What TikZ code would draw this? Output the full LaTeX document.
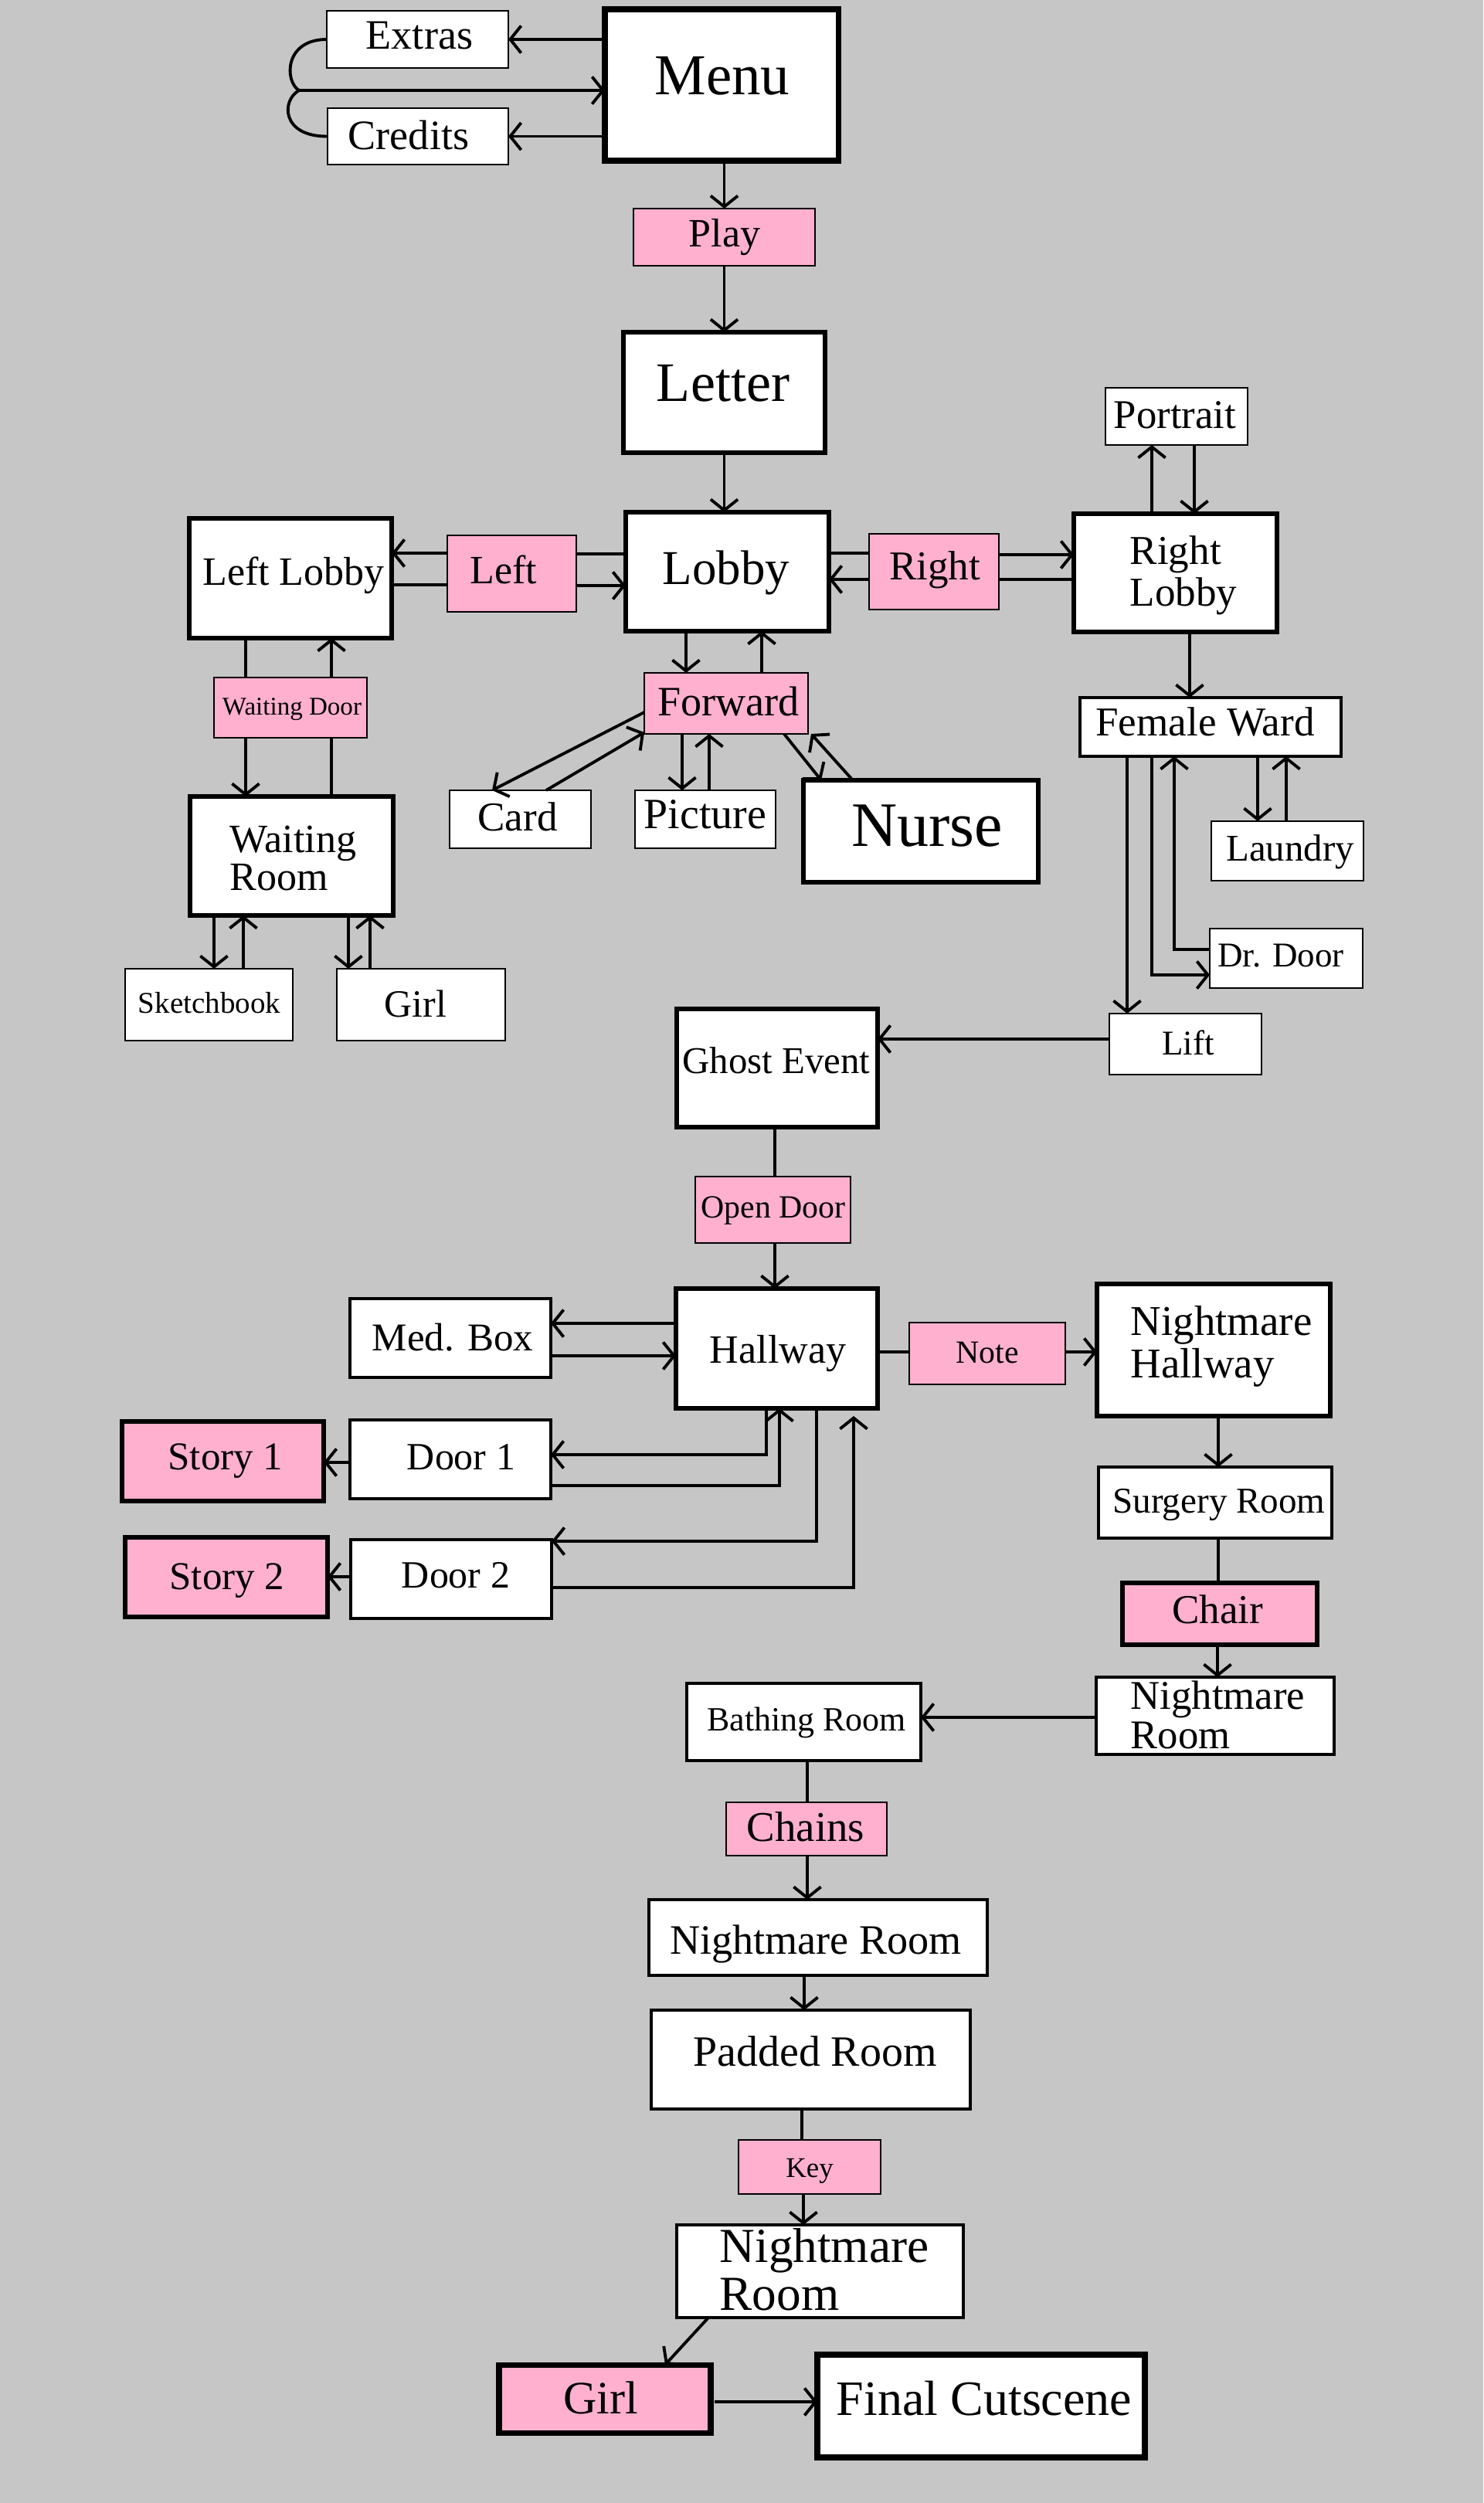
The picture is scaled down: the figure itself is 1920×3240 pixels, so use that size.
\documentclass[tikz,border=0pt]{standalone}
\usepackage{fontspec}
\setmainfont{Liberation Serif}
\usetikzlibrary{arrows.meta,fit}
\definecolor{bgc}{RGB}{198,198,198}
\definecolor{pinkc}{RGB}{255,176,207}
\newcommand\fs[1]{\fontsize{#1pt}{#1pt}\selectfont}
\tikzset{
 bthin/.style={draw, fill=white, line width=0.8pt, inner sep=0pt, outer sep=0pt},
 bmed/.style={draw, fill=white, line width=1.1pt, inner sep=0pt, outer sep=0pt},
 bthick/.style={draw, fill=white, line width=1.6pt, inner sep=0pt, outer sep=0pt},
 pthin/.style={bthin, fill=pinkc},
 pthick/.style={bthick, fill=pinkc},
 lbl/.style={anchor=base, inner sep=0pt},
 lbll/.style={anchor=base west, inner sep=0pt},
 conn/.style={line width=1.1pt},
 arr/.style={conn, -{Straight Barb[length=4pt,width=10pt]}},
}
\begin{document}
\begin{tikzpicture}[x=0.01cm,y=-0.01cm]
\useasboundingbox[fill=bgc] (0,0) rectangle (1920,3240);
% ---------- boxes ----------
\node[bthin, fit={(423,14) (658,88)}] (extras) {};
\node[bthin, fit={(424,140) (658,213)}] (credits) {};
\node[bthick, line width=2pt, fit={(783,12) (1085,208)}] (menu) {};
\node[pthin, fit={(820,270) (1055,344)}] (play) {};
\node[bthick, fit={(807,430) (1068,586)}] (letter) {};
\node[bthick, fit={(810,663) (1073,817)}] (lobby) {};
\node[bthick, fit={(245,671) (507,826)}] (leftlobby) {};
\node[pthin, fit={(579,693) (746,792)}] (left) {};
\node[pthin, fit={(1125,691) (1293,789)}] (right) {};
\node[bthick, fit={(1390,665) (1653,818)}] (rightlobby) {};
\node[bthin, fit={(1431,502) (1615,576)}] (portrait) {};
\node[bmed, fit={(1398,903) (1736,979)}] (femaleward) {};
\node[bthin, fit={(1568,1063) (1765,1140)}] (laundry) {};
\node[bthin, fit={(1566,1202) (1764,1279)}] (drdoor) {};
\node[bthin, fit={(1436,1312) (1633,1391)}] (lift) {};
\node[bthick, fit={(876,1306) (1136,1459)}] (ghost) {};
\node[pthin, fit={(900,1523) (1101,1609)}] (opendoor) {};
\node[bthick, fit={(875,1668) (1136,1823)}] (hallway) {};
\node[bmed, fit={(453,1681) (713,1783)}] (medbox) {};
\node[pthin, fit={(1177,1712) (1379,1792)}] (note) {};
\node[bthick, fit={(1420,1662) (1722,1833)}] (nh) {};
\node[bmed, fit={(453,1838) (713,1940)}] (door1) {};
\node[pthick, fit={(158,1840) (419,1943)}] (story1) {};
\node[bmed, fit={(454,1993) (714,2095)}] (door2) {};
\node[pthick, fit={(162,1990) (424,2093)}] (story2) {};
\node[bmed, fit={(1422,1899) (1724,1991)}] (surgery) {};
\node[pthick, fit={(1453,2049) (1705,2129)}] (chair) {};
\node[bmed, fit={(1419,2171) (1727,2271)}] (nrr) {};
\node[bmed, fit={(889,2179) (1192,2279)}] (bathing) {};
\node[pthin, fit={(940,2333) (1148,2402)}] (chains) {};
\node[bmed, fit={(840,2459) (1278,2557)}] (nrm) {};
\node[bmed, fit={(843,2602) (1256,2730)}] (padded) {};
\node[pthin, fit={(956,2770) (1140,2840)}] (key) {};
\node[bmed, fit={(876,2880) (1247,3000)}] (nrb) {};
\node[pthick, line width=2pt, fit={(646,3061) (920,3149)}] (girlb) {};
\node[bthick, line width=2.2pt, fit={(1058,3048) (1482,3181)}] (final) {};
\node[pthin, fit={(277,877) (475,955)}] (waitdoor) {};
\node[bthick, fit={(246,1031) (509,1185)}] (waitroom) {};
\node[bthin, fit={(162,1254) (379,1347)}] (sketch) {};
\node[bthin, fit={(436,1254) (654,1347)}] (girll) {};
\node[pthin, fit={(834,871) (1046,950)}] (forward) {};
\node[bthin, fit={(582,1023) (765,1098)}] (card) {};
\node[bthin, fit={(822,1023) (1004,1098)}] (picture) {};
\node[bthick, fit={(1040,1010) (1344,1142)}] (nurse) {};
% ---------- texts ----------
\node[lbl, font=\fs{15.4}] (extrast) at (543,64) {Extras};
\node[lbl, font=\fs{15.4}] (creditst) at (529,194) {Credits};
\node[lbl, font=\fs{21.3}] (menut) at (935,123) {Menu};
\node[lbl, font=\fs{14.8}] (playt) at (938,320) {Play};
\node[lbl, font=\fs{20.5}] (lettert) at (936,520) {Letter};
\node[lbl, font=\fs{17.9}] (lobbyt) at (940,756) {Lobby};
\node[lbl, font=\fs{14.8}] (leftlobbyt) at (380,757) {Left Lobby};
\node[lbl, font=\fs{14.8}] (leftt) at (652,755) {Left};
\node[lbl, font=\fs{15.1}] (rightt) at (1210,750) {Right};
\node[lbll, font=\fs{15.1}] (rightlobbyt1) at (1462,730) {Right};
\node[lbll, font=\fs{15.1}] (rightlobbyt2) at (1462,784) {Lobby};
\node[lbl, font=\fs{15}] (portraitt) at (1521,555) {Portrait};
\node[lbl, font=\fs{15.1}] (femalewardt) at (1560,952) {Female Ward};
\node[lbl, font=\fs{13.9}] (laundryt) at (1670,1114) {Laundry};
\node[lbl, font=\fs{12.8}] (drdoort) at (1658,1251) {Dr. Door};
\node[lbl, font=\fs{12.8}] (liftt) at (1538,1365) {Lift};
\node[lbl, font=\fs{13.9}] (ghostt) at (1005,1389) {Ghost Event};
\node[lbl, font=\fs{11.9}] (opendoort) at (1001,1576) {Open Door};
\node[lbl, font=\fs{14.8}] (hallwayt) at (1007,1764) {Hallway};
\node[lbl, font=\fs{14.5}] (medboxt) at (586,1748) {Med. Box};
\node[lbl, font=\fs{11.9}] (notet) at (1278,1764) {Note};
\node[lbll, font=\fs{15.6}] (nht1) at (1463,1728) {Nightmare};
\node[lbll, font=\fs{15.6}] (nht2) at (1463,1783) {Hallway};
\node[lbl, font=\fs{14.2}] (door1t) at (597,1902) {Door 1};
\node[lbl, font=\fs{14.5}] (story1t) at (292,1902) {Story 1};
\node[lbl, font=\fs{14.2}] (door2t) at (590,2055) {Door 2};
\node[lbl, font=\fs{14.5}] (story2t) at (294,2057) {Story 2};
\node[lbl, font=\fs{13.4}] (surgeryt) at (1578,1958) {Surgery Room};
\node[lbl, font=\fs{15.1}] (chairt) at (1576,2101) {Chair};
\node[lbll, font=\fs{15}] (nrrt1) at (1463,2212) {Nightmare};
\node[lbll, font=\fs{15}] (nrrt2) at (1463,2263) {Room};
\node[lbl, font=\fs{12.5}] (bathingt) at (1044,2240) {Bathing Room};
\node[lbl, font=\fs{15.6}] (chainst) at (1043,2383) {Chains};
\node[lbl, font=\fs{15.4}] (nrmt) at (1056,2529) {Nightmare Room};
\node[lbl, font=\fs{15.9}] (paddedt) at (1055,2674) {Padded Room};
\node[lbl, font=\fs{10.5}] (keyt) at (1048,2818) {Key};
\node[lbll, font=\fs{18}] (nrbt1) at (931,2928) {Nightmare};
\node[lbll, font=\fs{18}] (nrbt2) at (931,2990) {Room};
\node[lbl, font=\fs{17.1}] (girlbt) at (778,3124) {Girl};
\node[lbl, font=\fs{18.2}] (finalt) at (1274,3126) {Final Cutscene};
\node[lbl, font=\fs{9.4}] (waitdoort) at (378,925) {Waiting Door};
\node[lbll, font=\fs{14.8}] (waitroomt1) at (297,1103) {Waiting};
\node[lbll, font=\fs{14.8}] (waitroomt2) at (297,1152) {Room};
\node[lbl, font=\fs{11.1}] (sketcht) at (271,1311) {Sketchbook};
\node[lbl, font=\fs{14.2}] (girllt) at (538,1316) {Girl};
\node[lbl, font=\fs{15.4}] (forwardt) at (943,926) {Forward};
\node[lbl, font=\fs{15.1}] (cardt) at (670,1075) {Card};
\node[lbl, font=\fs{15.9}] (picturet) at (913,1072) {Picture};
\node[lbl, font=\fs{23.3}] (nurset) at (1200,1095) {Nurse};
% ---------- connectors ----------
% menu
\draw[arr] (extras.east -| menu.west) -- (extras.east);
\draw[arr] (credits.east -| menu.west) -- (credits.east);
\coordinate (mj) at (387,117);
\draw[conn] (extras.west) .. controls (368,51) and (368,105) .. (mj);
\draw[conn] (credits.west) .. controls (364,177) and (364,130) .. (mj);
\draw[arr] (mj) -- (mj -| menu.west);
\draw[arr] (play.north |- menu.south) -- (play.north);
\draw[arr] (play.south) -- (play.south |- letter.north);
\draw[arr] (letter.south) -- (letter.south |- lobby.north);
% lobby left/right
\draw[conn] (lobby.west |- 0,717) -- (left.east |- 0,717);
\draw[arr] (left.west |- 0,716) -- (leftlobby.east |- 0,716);
\draw[conn] (leftlobby.east |- 0,757) -- (left.west |- 0,757);
\draw[arr] (left.east |- 0,758) -- (lobby.west |- 0,758);
\draw[conn] (lobby.east |- 0,716) -- (right.west |- 0,716);
\draw[arr] (right.east |- 0,718) -- (rightlobby.west |- 0,718);
\draw[conn] (rightlobby.west |- 0,750) -- (right.east |- 0,750);
\draw[arr] (right.west |- 0,750) -- (lobby.east |- 0,750);
% right wing
\draw[arr] (rightlobby.north -| 1491,0) -- (portrait.south -| 1491,0);
\draw[arr] (portrait.south -| 1546,0) -- (rightlobby.north -| 1546,0);
\draw[arr] (rightlobby.south -| 1540,0) -- (femaleward.north -| 1540,0);
\draw[arr] (femaleward.south -| 1628,0) -- (laundry.north -| 1628,0);
\draw[arr] (laundry.north -| 1665,0) -- (femaleward.south -| 1665,0);
\draw[arr] (femaleward.south -| 1491,0) |- (drdoor.west |- 0,1262);
\draw[arr] (drdoor.west |- 0,1229) -| (femaleward.south -| 1520,0);
\draw[arr] (femaleward.south -| 1459,0) -- (lift.north -| 1459,0);
\draw[arr] (lift.west |- 0,1345) -- (ghost.east |- 0,1345);
% forward
\draw[arr] (lobby.south -| 888,0) -- (forward.north -| 888,0);
\draw[arr] (forward.north -| 986,0) -- (lobby.south -| 986,0);
\draw[arr] (forward.west |- 0,922) -- (card.north -| 637,0);
\draw[arr] (card.north -| 707,0) -- (forward.west |- 0,948);
\draw[arr] (forward.south -| 883,0) -- (picture.north -| 883,0);
\draw[arr] (picture.north -| 918,0) -- (forward.south -| 918,0);
\draw[arr] (forward.south -| 1015,0) -- (nurse.north -| 1063,0);
\draw[arr] (nurse.north -| 1104,0) -- (forward.south -| 1050,0);
% left wing
\draw[conn] (leftlobby.south -| 318,0) -- (waitdoor.north -| 318,0);
\draw[arr] (waitdoor.north -| 429,0) -- (leftlobby.south -| 429,0);
\draw[arr] (waitdoor.south -| 318,0) -- (waitroom.north -| 318,0);
\draw[conn] (waitroom.north -| 429,0) -- (waitdoor.south -| 429,0);
\draw[arr] (waitroom.south -| 277,0) -- (sketch.north -| 277,0);
\draw[arr] (sketch.north -| 315,0) -- (waitroom.south -| 315,0);
\draw[arr] (waitroom.south -| 451,0) -- (girll.north -| 451,0);
\draw[arr] (girll.north -| 479,0) -- (waitroom.south -| 479,0);
% ghost / hallway
\draw[conn] (ghost.south -| 1003,0) -- (opendoor.north -| 1003,0);
\draw[arr] (opendoor.south -| 1003,0) -- (hallway.north -| 1003,0);
\draw[arr] (hallway.west |- 0,1713) -- (medbox.east |- 0,1713);
\draw[arr] (medbox.east |- 0,1755) -- (hallway.west |- 0,1755);
\draw[conn] (hallway.east |- 0,1750) -- (note.west |- 0,1750);
\draw[arr] (note.east |- 0,1750) -- (nh.west |- 0,1750);
\draw[arr] (hallway.south -| 992,0) |- (door1.east |- 0,1883);
\draw[arr] (door1.east |- 0,1923) -| (hallway.south -| 1009,0);
\draw[arr] (hallway.south -| 1057,0) |- (door2.east |- 0,1995);
\draw[arr] (door2.east |- 0,2055) -| ([yshift=-0.1cm]hallway.south -| 1105,0);
\draw[arr] (door1.west |- 0,1893) -- (story1.east |- 0,1893);
\draw[arr] (door2.west |- 0,2041) -- (story2.east |- 0,2041);
% nightmare path
\draw[arr] (nh.south -| 1577,0) -- (surgery.north -| 1577,0);
\draw[conn] (surgery.south -| 1577,0) -- (chair.north -| 1577,0);
\draw[arr] (chair.south -| 1576,0) -- (nrr.north -| 1576,0);
\draw[arr] (nrr.west |- 0,2223) -- (bathing.east |- 0,2223);
\draw[conn] (bathing.south -| 1045,0) -- (chains.north -| 1045,0);
\draw[arr] (chains.south -| 1045,0) -- (nrm.north -| 1045,0);
\draw[arr] (nrm.south -| 1041,0) -- (padded.north -| 1041,0);
\draw[conn] (padded.south -| 1038,0) -- (key.north -| 1038,0);
\draw[arr] (key.south -| 1040,0) -- (nrb.north -| 1040,0);
\draw[arr] (nrb.south -| 917,0) -- (girlb.north -| 861,0);
\draw[arr] ([xshift=0.05cm]girlb.east |- 0,3109) -- (final.west |- 0,3109);
\end{tikzpicture}
\end{document}
